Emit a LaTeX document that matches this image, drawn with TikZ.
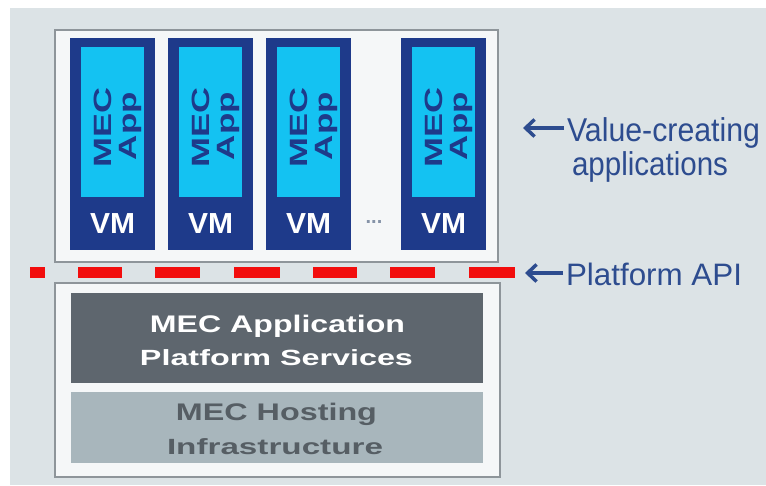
\documentclass[tikz,border=0pt]{standalone}
\usepackage{fontspec}
\setmainfont{Liberation Sans}
\usepackage{graphicx}
\usetikzlibrary{arrows.meta}
\definecolor{bgc}{HTML}{DCE3E6}
\definecolor{panelfill}{HTML}{F5F7F8}
\definecolor{panelline}{HTML}{8E959A}
\definecolor{vmblue}{HTML}{1E3A8A}
\definecolor{appblue}{HTML}{14C2F2}
\definecolor{darkgrey}{HTML}{5E666E}
\definecolor{lightgrey}{HTML}{A8B6BC}
\definecolor{hosttext}{HTML}{565E64}
\definecolor{apired}{HTML}{F20D0D}
\definecolor{labelblue}{HTML}{2D4C8F}
\definecolor{dotc}{HTML}{8593A8}
\newcommand\wtext[3]{\resizebox{#1}{\height}{\fontsize{#2}{#2}\selectfont #3}}
\tikzset{
  panel/.style={draw=panelline, line width=2.5pt, fill=panelfill, anchor=north west},
  vmbox/.style={fill=vmblue, minimum width=85pt, minimum height=212pt, anchor=north west},
  appbox/.style={fill=appblue, minimum width=63pt, minimum height=150pt, anchor=north west},
  apptext/.style={rotate=90, anchor=base, text=vmblue, font=\bfseries},
  vmtext/.style={anchor=base, text=white, font=\bfseries},
  layer/.style={minimum width=412pt, anchor=north west},
  label/.style={anchor=base west, text=labelblue},
  arr/.style={line width=3.5pt, draw=labelblue, -{Straight Barb[length=9pt,width=17pt]}},
  reddash/.style={fill=apired}
}
\begin{document}
\begin{tikzpicture}[x=1pt,y=-1pt, every node/.style={inner sep=0pt, outer sep=0pt}]
\useasboundingbox (0,0) rectangle (766,485);
\fill[white] (0,0) rectangle (766,485);
\fill[bgc] (10,8) rectangle (766,485);

% upper panel
\node[panel, minimum width=443pt, minimum height=232pt] (top) at (55,30) {};

% VM columns
\foreach \i/\x in {1/70, 2/168, 3/266, 4/401} {
  \node[vmbox] (vm\i) at (\x,38) {};
  \node[appbox] (app\i) at (\x+11,47) {};
  \node[apptext] (mec\i) at (\x+41,127) {\wtext{80pt}{25}{MEC}};
  \node[apptext] (appt\i) at (\x+66,126) {\wtext{68pt}{25}{App}};
  \node[vmtext] (vmt\i) at (\x+42.5,233) {\wtext{45pt}{29}{VM}};
}
\node[text=dotc, font=\bfseries] (dots) at (374,222) {\fontsize{20}{20}\selectfont ...};

% platform API dashed line
\foreach \a/\b in {30/45, 78/122, 155/200, 234/280, 313/357, 390/435, 469/515} {
  \fill[reddash] (\a,267) rectangle (\b,278);
}

% lower panel
\node[panel, minimum width=445pt, minimum height=194pt] (bottom) at (55,283) {};
\node[layer, fill=darkgrey, minimum height=90pt] (services) at (71,293) {};
\node[layer, fill=lightgrey, minimum height=71pt] (hosting) at (71,392) {};
\node[anchor=base, text=white, font=\bfseries] (s1) at (277.5,332) {\wtext{255pt}{24}{MEC Application}};
\node[anchor=base, text=white, font=\bfseries] (s2) at (276.5,365) {\wtext{273pt}{22}{Platform Services}};
\node[anchor=base, text=hosttext, font=\bfseries] (h1) at (276.5,420) {\wtext{201pt}{24}{MEC Hosting}};
\node[anchor=base, text=hosttext, font=\bfseries] (h2) at (275,454) {\wtext{216pt}{22}{Infrastructure}};

% right labels
\node[label] (vc1) at (567,141) {\wtext{193pt}{33}{Value-creating}};
\node[label] (vc2) at (572,175) {\wtext{156pt}{33}{applications}};
\node[label] (api) at (566,285) {\wtext{176pt}{31}{Platform API}};
\coordinate (a1) at (523,128);
\coordinate (a2) at (525,273);
\draw[arr] (vc1.base west) ++(-3,-13) -- (a1);
\draw[arr] (api.base west) ++(-3,-12) -- (a2);
\end{tikzpicture}
\end{document}
